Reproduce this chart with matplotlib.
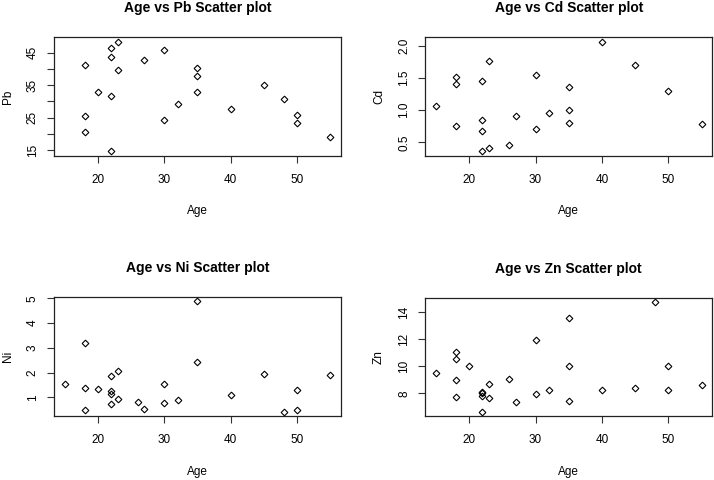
import matplotlib
matplotlib.use("Agg")
import matplotlib.pyplot as plt
import numpy as np

plt.rcParams['font.family'] = ['Liberation Sans', 'DejaVu Sans']

# ---- data ----
pb_age = [18, 18, 18, 20, 22, 22, 22, 22, 23, 23, 27, 30, 30, 32, 35, 35, 35, 40, 45, 48, 50, 50, 55]
pb_val = [41.3, 25.6, 20.5, 32.8, 46.3, 43.7, 31.7, 14.6, 48.4, 39.8, 42.8, 45.7, 24.2, 29.1, 40.2, 37.7, 32.8, 27.7, 35.1, 30.6, 25.7, 23.2, 19.0]

cd_age = [15, 18, 18, 18, 22, 22, 22, 22, 23, 23, 26, 27, 30, 30, 32, 35, 35, 35, 40, 45, 50, 55]
cd_val = [1.06, 1.51, 1.40, 0.76, 1.45, 0.85, 0.67, 0.36, 1.76, 0.41, 0.46, 0.91, 1.55, 0.70, 0.95, 1.35, 1.00, 0.80, 2.06, 1.70, 1.30, 0.79]

ni_age = [15, 18, 18, 18, 20, 22, 22, 22, 22, 23, 23, 26, 27, 30, 30, 32, 35, 35, 40, 45, 48, 50, 50, 55]
ni_val = [1.54, 3.18, 1.38, 0.51, 1.34, 1.87, 1.27, 1.12, 0.73, 2.08, 0.95, 0.83, 0.55, 1.54, 0.76, 0.91, 4.89, 2.43, 1.09, 1.93, 0.43, 1.30, 0.51, 1.89]

zn_age = [15, 18, 18, 18, 18, 20, 22, 22, 22, 22, 23, 23, 26, 27, 30, 30, 32, 35, 35, 35, 40, 45, 48, 50, 50, 55]
zn_val = [9.52, 11.09, 10.57, 9.0, 7.73, 10.0, 8.1, 8.03, 7.82, 6.66, 8.72, 7.68, 9.08, 7.37, 11.92, 7.93, 8.29, 13.54, 10.06, 7.44, 8.29, 8.37, 14.74, 10.0, 8.29, 8.59]

age_ticks = [20, 30, 40, 50]
pb_ticks = [15, 20, 25, 30, 35, 40, 45]
pb_ticklabels = ['15', '', '25', '', '35', '', '45']
cd_ticks = [0.5, 1.0, 1.5, 2.0]
cd_ticklabels = ['0.5', '1.0', '1.5', '2.0']
ni_ticks = [1, 2, 3, 4, 5]
ni_ticklabels = ['1', '2', '3', '4', '5']
zn_ticks = [8, 10, 12, 14]
zn_ticklabels = ['8', '10', '12', '14']

panels = [
    ("Pb", pb_age, pb_val, pb_ticks, pb_ticklabels, [54/714, 1-155.7/480, 287/714, 118.4/480]),
    ("Cd", cd_age, cd_val, cd_ticks, cd_ticklabels, [425.3/714, 1-155.7/480, 287/714, 118.4/480]),
    ("Ni", ni_age, ni_val, ni_ticks, ni_ticklabels, [54/714, 1-416/480, 287/714, 119.3/480]),
    ("Zn", zn_age, zn_val, zn_ticks, zn_ticklabels, [425.3/714, 1-416/480, 287/714, 118.3/480]),
]

all_age = pb_age + cd_age + ni_age + zn_age
amin, amax = min(all_age), max(all_age)
apad = 0.04 * (amax - amin)

fig = plt.figure(figsize=(7.14, 4.8), dpi=100)
for name, x, y, yt, ytl, rect in panels:
    ax = fig.add_axes(rect)
    ax.plot(x, y, linestyle='none', marker='D', markersize=3.4,
            markerfacecolor='none', markeredgecolor='black', markeredgewidth=0.8)
    ax.set_xlim(amin - apad, amax + apad)
    ymin, ymax = min(y), max(y)
    ypad = 0.04 * (ymax - ymin)
    ax.set_ylim(ymin - ypad, ymax + ypad)
    ax.set_xticks(age_ticks)
    ax.set_xticklabels([str(t) for t in age_ticks])
    ax.set_yticks(yt)
    ax.set_yticklabels(ytl, rotation=90, va='center')
    ax.tick_params(direction='out', length=5, width=0.8, labelsize=8.5, color='#333333')
    ax.tick_params(axis='x', pad=8)
    ax.tick_params(axis='y', pad=6)
    for s in ax.spines.values():
        s.set_linewidth(0.9)
        s.set_color('#222222')
    ax.set_title(f"Age vs {name} Scatter plot", fontsize=10, fontweight='bold', pad=18)
    ax.set_xlabel("Age", fontsize=8.5)
    ax.set_ylabel(name, fontsize=8.5)
    ax.xaxis.set_label_coords(0.5, -0.42)
    ax.yaxis.set_label_coords(-0.14, 0.5)

fig.savefig("out.png", dpi=100)
